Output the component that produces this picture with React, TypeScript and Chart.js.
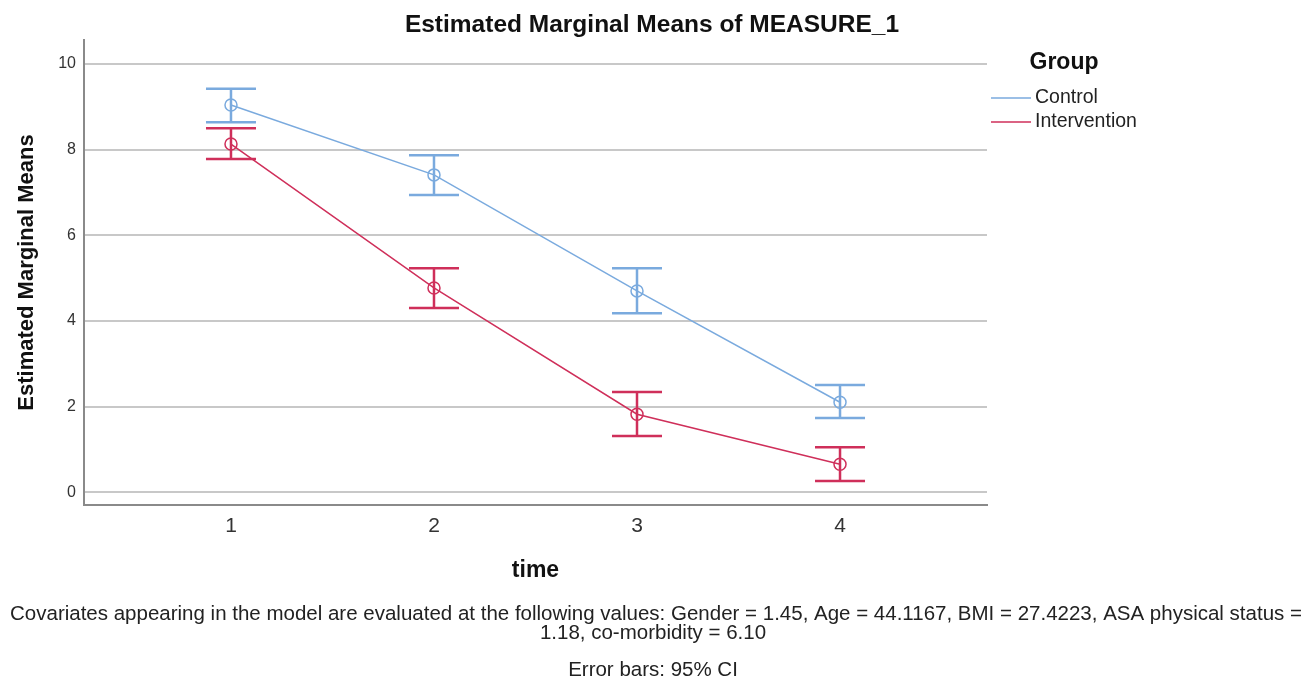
import React, { useEffect, useRef } from "react";
import { Chart, registerables } from "chart.js";

Chart.register(...registerables);

const timePoints = [1, 2, 3, 4];
const controlMeans = [9.04, 7.41, 4.7, 2.1];
const controlLower = [8.64, 6.94, 4.18, 1.73];
const controlUpper = [9.42, 7.87, 5.23, 2.5];
const interventionMeans = [8.13, 4.77, 1.82, 0.65];
const interventionLower = [7.78, 4.3, 1.31, 0.26];
const interventionUpper = [8.5, 5.23, 2.34, 1.05];
const yTicks = [0, 2, 4, 6, 8, 10];
const seriesNames = ["Control", "Intervention"];

const BLUE = "#7aaade";
const RED = "#cf2f5a";
const FONT = "'Liberation Sans', Arial, sans-serif";

const errorLows = [controlLower, interventionLower];
const errorHighs = [controlUpper, interventionUpper];

const errorBarPlugin = {
  id: "errorBars",
  afterDatasetsDraw(chart: any) {
    const { ctx, scales } = chart;
    const x = scales.x;
    const y = scales.y;
    chart.data.datasets.forEach((ds: any, di: number) => {
      ctx.save();
      ctx.strokeStyle = ds.borderColor;
      ctx.lineWidth = 2.5;
      ds.data.forEach((pt: any, i: number) => {
        const px = x.getPixelForValue(pt.x);
        const lo = y.getPixelForValue(errorLows[di][i]);
        const hi = y.getPixelForValue(errorHighs[di][i]);
        ctx.beginPath();
        ctx.moveTo(px, lo);
        ctx.lineTo(px, hi);
        ctx.moveTo(px - 25, lo);
        ctx.lineTo(px + 25, lo);
        ctx.moveTo(px - 25, hi);
        ctx.lineTo(px + 25, hi);
        ctx.stroke();
      });
      ctx.restore();
    });
  },
};

const textPlugin = {
  id: "texts",
  afterDraw(chart: any) {
    const { ctx, chartArea } = chart;
    ctx.save();
    ctx.fillStyle = "#111";
    ctx.textBaseline = "middle";
    // Title
    ctx.textAlign = "center";
    ctx.font = `bold 24.5px ${FONT}`;
    ctx.fillText("Estimated Marginal Means of MEASURE_1", 652, 25);
    // x title
    ctx.font = `bold 23px ${FONT}`;
    ctx.fillText("time", (chartArea.left + chartArea.right) / 2, 571);
    // y title
    ctx.save();
    ctx.translate(27, (chartArea.top + chartArea.bottom) / 2);
    ctx.rotate(-Math.PI / 2);
    ctx.font = `bold 22px ${FONT}`;
    ctx.fillText("Estimated Marginal Means", 0, 0);
    ctx.restore();
    // Legend
    ctx.font = `bold 23px ${FONT}`;
    ctx.fillText("Group", 1064, 63);
    ctx.textAlign = "left";
    ctx.font = `19.5px ${FONT}`;
    const colors = [BLUE, RED];
    seriesNames.forEach((name, i) => {
      const ly = 98 + i * 24;
      ctx.strokeStyle = colors[i];
      ctx.lineWidth = 1.5;
      ctx.beginPath();
      ctx.moveTo(991, ly);
      ctx.lineTo(1031, ly);
      ctx.stroke();
      ctx.fillStyle = "#222";
      ctx.fillText(name, 1035, ly);
    });
    // Footnotes
    ctx.textAlign = "center";
    ctx.fillStyle = "#222";
    ctx.font = `20.5px ${FONT}`;
    ctx.fillText(
      "Covariates appearing in the model are evaluated at the following values: Gender = 1.45, Age = 44.1167, BMI = 27.4223, ASA physical status =",
      656,
      614
    );
    ctx.fillText("1.18, co-morbidity = 6.10", 653, 633);
    ctx.fillText("Error bars: 95% CI", 653, 670);
    ctx.restore();
  },
};

export default function App() {
  const ref = useRef<HTMLCanvasElement>(null);
  useEffect(() => {
    if (!ref.current) return;
    const chart = new Chart(ref.current, {
      type: "line",
      data: {
        datasets: [
          {
            label: seriesNames[0],
            data: timePoints.map((t, i) => ({ x: t, y: controlMeans[i] })),
            borderColor: BLUE,
            backgroundColor: "rgba(0,0,0,0)",
            borderWidth: 1.5,
            pointRadius: 6,
            pointBorderWidth: 1.5,
            pointBackgroundColor: "rgba(0,0,0,0)",
            pointBorderColor: BLUE,
          },
          {
            label: seriesNames[1],
            data: timePoints.map((t, i) => ({ x: t, y: interventionMeans[i] })),
            borderColor: RED,
            backgroundColor: "rgba(0,0,0,0)",
            borderWidth: 1.5,
            pointRadius: 6,
            pointBorderWidth: 1.5,
            pointBackgroundColor: "rgba(0,0,0,0)",
            pointBorderColor: RED,
          },
        ],
      },
      options: {
        responsive: false,
        animation: false,
        layout: { padding: { top: 40, left: 0, right: 326, bottom: 0 } },
        plugins: {
          legend: { display: false },
          title: { display: false },
          tooltip: { enabled: false },
        },
        scales: {
          x: {
            type: "linear",
            min: 0.276,
            max: 4.724,
            afterBuildTicks: (s: any) => {
              s.ticks = timePoints.map((v) => ({ value: v }));
            },
            afterFit: (s: any) => {
              s.height = 176;
            },
            grid: { display: false, drawTicks: false },
            border: { display: true, color: "#8a8a8a", width: 2 },
            ticks: {
              padding: 9,
              color: "#333",
              font: { size: 21, family: FONT },
              callback: (v: any) => String(v),
            },
          },
          y: {
            type: "linear",
            min: -0.3,
            max: 10.56,
            afterBuildTicks: (s: any) => {
              s.ticks = yTicks.map((v) => ({ value: v }));
            },
            afterFit: (s: any) => {
              s.width = 84;
            },
            grid: { color: "#c8c8c8", lineWidth: 2, drawTicks: false },
            border: { display: true, color: "#8a8a8a", width: 2 },
            ticks: {
              padding: 8,
              color: "#333",
              font: { size: 16, family: FONT },
              callback: (v: any) => String(v),
            },
          },
        },
      },
      plugins: [errorBarPlugin, textPlugin],
    } as any);
    return () => chart.destroy();
  }, []);
  return (
    <div style={{ position: "fixed", left: 0, top: 0, width: 1313, height: 681, background: "#fff" }}>
      <canvas ref={ref} width={1313} height={681} />
    </div>
  );
}
